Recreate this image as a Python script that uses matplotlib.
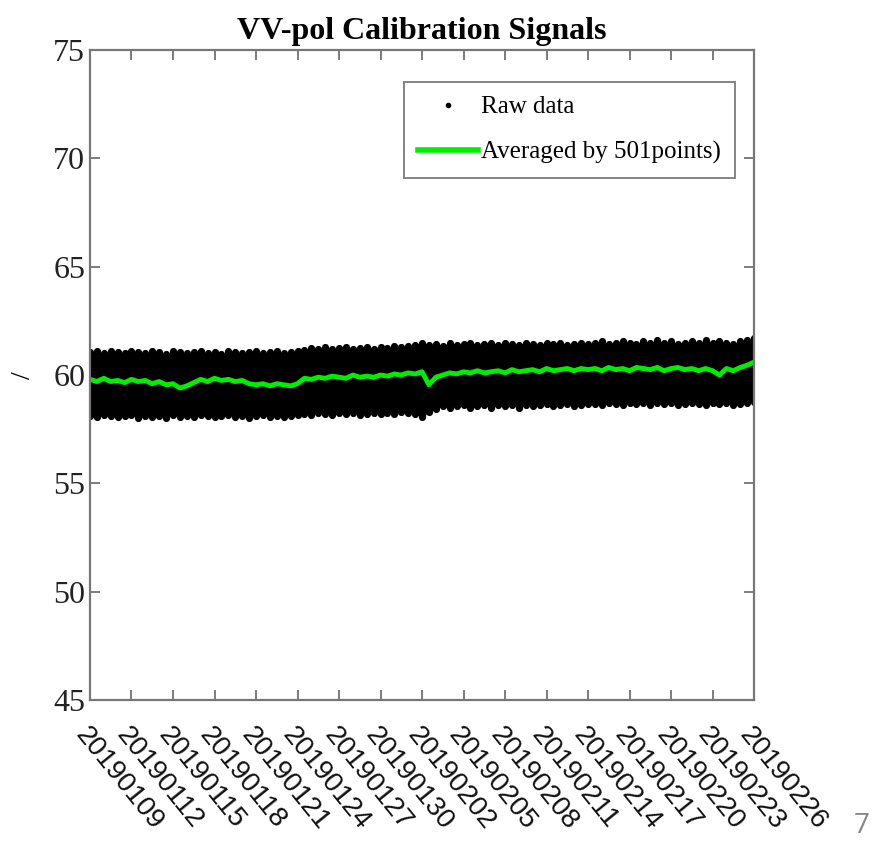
import numpy as np
import pandas as pd
import matplotlib
matplotlib.use("Agg")
import matplotlib.pyplot as plt
from matplotlib.lines import Line2D

# half-day samples, 2019-01-09 .. 2019-02-26
t = pd.date_range("2019-01-09", "2019-02-26", freq="12h")
days = (t - t[0]).total_seconds().to_numpy() / 86400.0

# raw data spread in each half-day bin (max / min)
raw_upper = [
    61.05, 61.1, 61.0, 61.1, 61.05, 61.0, 61.1, 61.05, 61.0, 61.1, 61.05, 60.95, 61.1, 61.05, 61.0, 61.05,
    61.1, 61.0, 61.05, 60.95, 61.1, 61.05, 61.0, 61.05, 61.1, 61.0, 61.05, 61.1, 61.0, 61.05, 61.1,
    61.15, 61.25, 61.2, 61.3, 61.2, 61.25, 61.3, 61.2, 61.25, 61.3, 61.2, 61.3, 61.25, 61.35, 61.3, 61.35,
    61.4, 61.5,
    61.4, 61.45, 61.35, 61.5, 61.4, 61.45, 61.5, 61.4, 61.45, 61.5, 61.4, 61.5, 61.45, 61.4, 61.5, 61.45,
    61.4, 61.5, 61.45, 61.5, 61.4, 61.45, 61.5, 61.45,
    61.5, 61.55, 61.45, 61.5, 61.55, 61.5, 61.45, 61.55, 61.5, 61.6, 61.5, 61.55, 61.45, 61.5, 61.55, 61.5,
    61.6, 61.5, 61.55, 61.5, 61.45, 61.55, 61.6, 61.7,
]
raw_lower = [
    58.1, 58.05, 58.15, 58.1, 58.05, 58.1, 58.15, 58.0, 58.1, 58.05, 58.1, 58.0, 58.15, 58.05, 58.1, 58.05,
    58.15, 58.1, 58.05, 58.1, 58.15, 58.05, 58.1, 58.0, 58.1, 58.15, 58.05, 58.1, 58.05, 58.1, 58.15,
    58.2, 58.15, 58.25, 58.2, 58.15, 58.25, 58.2, 58.25, 58.15, 58.2, 58.25, 58.2, 58.25, 58.2, 58.3, 58.25,
    58.2, 58.05,
    58.3, 58.45, 58.55, 58.5, 58.55, 58.6, 58.5, 58.55, 58.6, 58.5, 58.6, 58.55, 58.6, 58.5, 58.6, 58.55,
    58.6, 58.65, 58.55, 58.6, 58.65, 58.55, 58.6, 58.65,
    58.65, 58.6, 58.7, 58.65, 58.6, 58.7, 58.65, 58.7, 58.6, 58.7, 58.65, 58.7, 58.6, 58.65, 58.7, 58.65,
    58.6, 58.7, 58.65, 58.7, 58.6, 58.65, 58.7, 58.75,
]
# moving average over 501 points
averaged = [
    59.8, 59.7, 59.85, 59.7, 59.75, 59.65, 59.8, 59.7, 59.75, 59.6, 59.7, 59.55, 59.6, 59.4, 59.5, 59.65,
    59.8, 59.7, 59.85, 59.75, 59.8, 59.7, 59.75, 59.6, 59.55, 59.6, 59.5, 59.6, 59.55, 59.5, 59.6,
    59.85, 59.8, 59.9, 59.85, 59.95, 59.9, 59.85, 60.0, 59.9, 59.95, 59.9, 60.0, 59.95, 60.05, 60.0, 60.1,
    60.05, 60.15,
    59.55, 59.9, 60.0, 60.1, 60.05, 60.15, 60.1, 60.2, 60.1, 60.15, 60.2, 60.1, 60.25, 60.15, 60.2, 60.25,
    60.15, 60.3, 60.2, 60.25, 60.3, 60.2, 60.3, 60.25,
    60.3, 60.2, 60.35, 60.25, 60.3, 60.2, 60.35, 60.3, 60.25, 60.35, 60.2, 60.3, 60.35, 60.25, 60.3, 60.2,
    60.3, 60.2, 60.0, 60.3, 60.2, 60.35, 60.45, 60.6,
]

tick_days = list(range(0, 49, 3))
tick_labels = [d.strftime("%Y%m%d") for d in pd.date_range("2019-01-09", periods=17, freq="3D")]

fig = plt.figure(figsize=(8.78, 8.44), dpi=100)
ax = fig.add_axes([0.1025, 0.1706, 0.7563, 0.7701])

# dense raw samples: solid body plus one round-capped stroke per bin
ax.fill_between(days, raw_lower, raw_upper, color="black", linewidth=0)
ax.vlines(days, raw_lower, raw_upper, colors="black", linewidth=5.2, capstyle="round")
ax.plot(days, averaged, color="#00ee00", linewidth=3.5)

ax.set_xlim(0, 48)
ax.set_ylim(45, 75)
ax.set_yticks(range(45, 80, 5))
ax.set_xticks(tick_days)
ax.set_xticklabels(tick_labels, rotation=-51, ha="left", va="top", rotation_mode="anchor",
                   fontsize=20, family="Liberation Sans", color="#111111")
for lab in ax.get_yticklabels():
    lab.set_family("Liberation Serif")
    lab.set_fontsize(23)
    lab.set_color("#222222")

ax.tick_params(direction="in", top=True, right=True, length=7, width=1.2, color="#666666")
ax.tick_params(axis="x", pad=16)
for sp in ax.spines.values():
    sp.set_color("#777777")
    sp.set_linewidth(1.6)

ax.set_title("VV-pol Calibration Signals", family="Liberation Serif", fontweight="bold",
             fontsize=23, pad=8)
ax.set_ylabel("/", family="Liberation Serif", fontsize=20, labelpad=12)

handles = [
    Line2D([], [], ls="", marker=".", markersize=6, color="black"),
    Line2D([], [], color="#00ee00", linewidth=4),
]
leg = ax.legend(handles, ["Raw data", "Averaged by 501points)"], loc="upper right",
                bbox_to_anchor=(0.8371, 0.9028), bbox_transform=fig.transFigure, borderaxespad=0,
                fancybox=False, prop={"family": "Liberation Serif", "size": 18},
                handlelength=2.4, handletextpad=0.15, borderpad=0.55, labelspacing=0.9)
leg.get_frame().set_edgecolor("#666666")
leg.get_frame().set_linewidth(1.4)

fig.text(0.99, 0.005, "7", fontsize=20, color="#888888", ha="right", va="bottom", family="Open Sans")

fig.savefig("out.png", dpi=100)
